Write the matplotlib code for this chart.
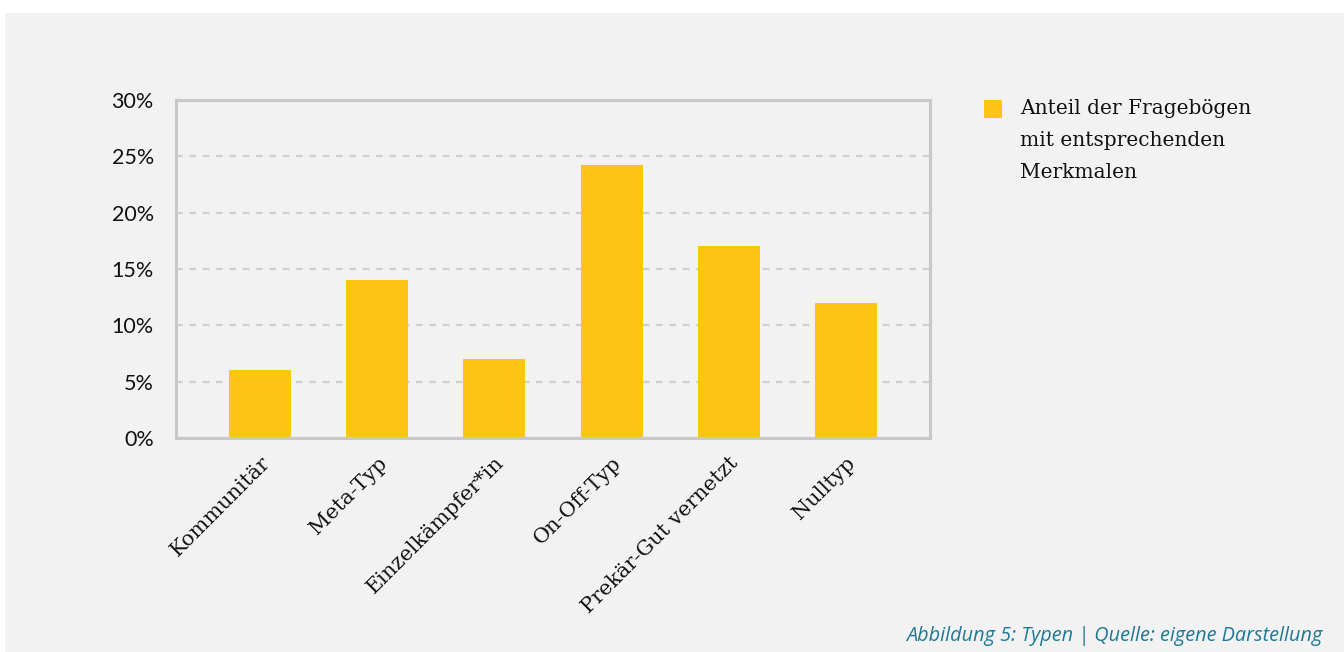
import matplotlib
matplotlib.use("Agg")
import matplotlib.pyplot as plt
from matplotlib.patches import Rectangle
from matplotlib.ticker import FuncFormatter, MultipleLocator

categories = ["Kommunitär", "Meta-Typ", "Einzelkämpfer*in", "On-Off-Typ",
              "Prekär-Gut vernetzt", "Nulltyp"]
shares = [6, 14, 7, 24.2, 17, 12]
legend_label = "Anteil der Fragebögen\nmit entsprechenden\nMerkmalen"
caption = "Abbildung 5: Typen | Quelle: eigene Darstellung"

BAR = "#fdc413"
PANEL = "#f2f2f2"
FRAME = "#c8c8c8"
SERIF = "DejaVu Serif"

W, H = 1344, 652
fig = plt.figure(figsize=(W / 100, H / 100), dpi=100, facecolor="white")

# grey panel behind the chart
fig.patches.append(Rectangle((5 / W, 0), 1 - 5 / W, 1 - 13 / H,
                             transform=fig.transFigure, facecolor=PANEL,
                             edgecolor="none", zorder=-5))

ax = fig.add_axes([176 / W, 1 - 438 / H, (930 - 176) / W, (438 - 100) / H])
ax.set_facecolor(PANEL)
ax.set_zorder(1)

x = range(len(categories))
ax.bar(x, shares, width=0.53, color=BAR, zorder=3)

ax.set_xlim(-0.72, len(categories) - 1 + 0.72)
ax.set_ylim(0, 30)
ax.yaxis.set_major_locator(MultipleLocator(5))
ax.yaxis.set_major_formatter(FuncFormatter(lambda v, _: f"{v:.0f}%"))

ax.grid(axis="y", color="#cfcfcf", linestyle=(0, (3, 3)), linewidth=1.6, zorder=1)
for s in ax.spines.values():
    s.set_color(FRAME)
    s.set_linewidth(2.2)
    s.set_zorder(4)

ax.tick_params(axis="both", length=0)
ax.tick_params(axis="y", pad=16)
for lab in ax.get_yticklabels():
    lab.set_fontfamily("Lato")
    lab.set_fontsize(15.5)
    lab.set_color("#111111")

ax.set_xticks(list(x))
ax.set_xticklabels(categories, rotation=45, ha="right", rotation_mode="anchor",
                   fontsize=15, fontfamily=SERIF, color="#111111")
ax.tick_params(axis="x", pad=11)

# legend: coloured square next to a three-line label
fig.patches.append(Rectangle((984 / W, 1 - 118 / H), 18 / W, 18 / H,
                             transform=fig.transFigure, facecolor=BAR,
                             edgecolor="none", zorder=2))
fig.text(1020 / W, 1 - 99 / H, legend_label, ha="left", va="top",
         fontsize=14.5, fontfamily=SERIF, color="#111111", linespacing=1.85)

fig.text(1322 / W, 1 - 641 / H, caption, ha="right", va="baseline",
         fontsize=14.3, fontstyle="italic", fontfamily="Open Sans", color="#1e7896")

fig.savefig("out.png", dpi=100, facecolor="white")
